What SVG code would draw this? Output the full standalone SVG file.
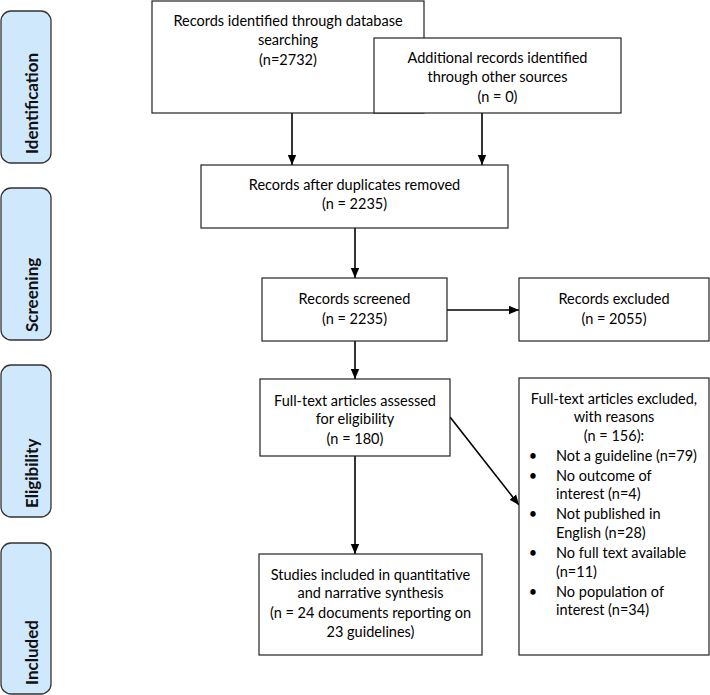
<svg xmlns="http://www.w3.org/2000/svg" width="710" height="695" viewBox="0 0 710 695">
<defs>
<marker id="ah" viewBox="0 0 10 10" refX="10" refY="5" markerWidth="10" markerHeight="10" markerUnits="userSpaceOnUse" orient="auto">
<path d="M0,0.8 L10,5 L0,9.2 Z" fill="#000"/>
</marker>
<style>
.phase rect{fill:#cfe8fb;stroke:#333;stroke-width:1.3}
.phase text{font-family:Lato,"Liberation Sans",Arial,sans-serif;font-weight:bold;font-size:17px;fill:#111}
.box rect{fill:#fff;stroke:#222;stroke-width:1.2}
.box text{font-family:Lato,"Liberation Sans",Arial,sans-serif;font-size:14.5px;fill:#000;text-anchor:middle}
.box text.l{text-anchor:start}
#connectors line{stroke:#000;stroke-width:1.6;marker-end:url(#ah)}
</style>
</defs>
<rect width="710" height="695" fill="#fff"/>

<g id="phase-identification" class="phase"><rect x="1" y="11" width="50" height="152" rx="10"/><text transform="translate(38,154) rotate(-90)">Identification</text></g>
<g id="phase-screening" class="phase"><rect x="1" y="188" width="50" height="152" rx="10"/><text transform="translate(38,332) rotate(-90)">Screening</text></g>
<g id="phase-eligibility" class="phase"><rect x="1" y="365" width="50" height="152" rx="10"/><text transform="translate(38,508) rotate(-90)">Eligibility</text></g>
<g id="phase-included" class="phase"><rect x="1" y="543" width="50" height="151" rx="10"/><text transform="translate(38,685) rotate(-90)">Included</text></g>

<g id="connectors">
<line x1="292" y1="113" x2="292" y2="165"/>
<line x1="482" y1="113" x2="482" y2="165"/>
<line x1="355" y1="228" x2="355" y2="278"/>
<line x1="447" y1="310" x2="519" y2="310"/>
<line x1="355" y1="341" x2="355" y2="379"/>
<line x1="450" y1="417" x2="519" y2="505"/>
<line x1="355" y1="456" x2="355" y2="554"/>
</g>

<g id="n-db" class="box"><rect x="152" y="1" width="272" height="112"/>
<text x="288" y="26">Records identified through database</text>
<text x="288" y="45">searching</text>
<text x="288" y="65">(n=2732)</text></g>

<g id="n-other" class="box"><rect x="374" y="38" width="247" height="75"/>
<text x="497.5" y="63">Additional records identified</text>
<text x="497.5" y="82">through other sources</text>
<text x="497.5" y="102">(n = 0)</text></g>

<g id="n-dedup" class="box"><rect x="201" y="165" width="307" height="63"/>
<text x="354.5" y="190">Records after duplicates removed</text>
<text x="354.5" y="209">(n = 2235)</text></g>

<g id="n-screened" class="box"><rect x="262" y="278" width="185" height="63"/>
<text x="354.5" y="304">Records screened</text>
<text x="354.5" y="324">(n = 2235)</text></g>

<g id="n-excluded" class="box"><rect x="519" y="278" width="190" height="63"/>
<text x="614" y="304">Records excluded</text>
<text x="614" y="324">(n = 2055)</text></g>

<g id="n-fulltext" class="box"><rect x="260" y="379" width="190" height="77"/>
<text x="355" y="406">Full-text articles assessed</text>
<text x="355" y="424">for eligibility</text>
<text x="355" y="444">(n = 180)</text></g>

<g id="n-ftexcluded" class="box"><rect x="519" y="378" width="190" height="277"/>
<text x="614" y="404">Full-text articles excluded,</text>
<text x="614" y="422">with reasons</text>
<text x="614" y="441">(n = 156):</text>
<text x="533" y="461">•</text><text class="l" x="556" y="461">Not a guideline (n=79)</text>
<text x="533" y="481">•</text><text class="l" x="556" y="481">No outcome of</text>
<text class="l" x="556" y="499">interest (n=4)</text>
<text x="533" y="519">•</text><text class="l" x="556" y="519">Not published in</text>
<text class="l" x="556" y="538">English (n=28)</text>
<text x="533" y="558">•</text><text class="l" x="556" y="558">No full text available</text>
<text class="l" x="556" y="577">(n=11)</text>
<text x="533" y="597">•</text><text class="l" x="556" y="597">No population of</text>
<text class="l" x="556" y="615">interest (n=34)</text></g>

<g id="n-included" class="box"><rect x="259" y="554" width="223" height="101"/>
<text x="370.5" y="580">Studies included in quantitative</text>
<text x="370.5" y="598">and narrative synthesis</text>
<text x="370.5" y="618">(n = 24 documents reporting on</text>
<text x="370.5" y="637">23 guidelines)</text></g>
</svg>
